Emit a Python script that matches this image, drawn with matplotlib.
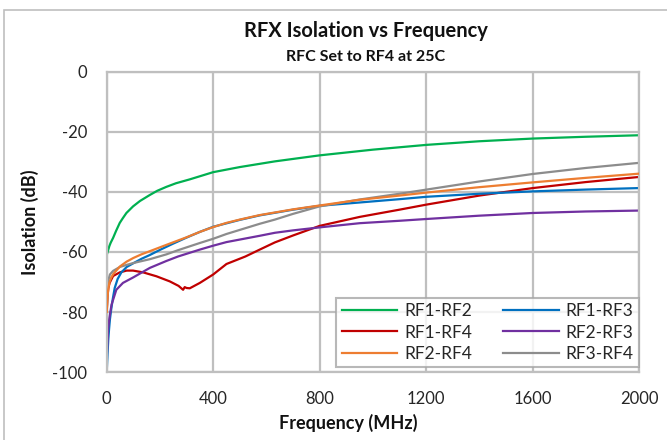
import matplotlib
matplotlib.use("Agg")
import matplotlib.pyplot as plt
from matplotlib.patches import Rectangle

plt.rcParams["font.family"] = ["Lato", "DejaVu Sans"]
plt.rcParams["axes.unicode_minus"] = False

# =========================
# Data
# =========================

f_rf1_rf2 = [0, 5, 10, 15, 24, 35, 49, 60, 74, 99, 125, 162, 190, 224, 260, 312, 400, 500, 632,
             800, 1000, 1202, 1400, 1601, 1800, 2000]
rf1_rf2 = [-61, -59.5, -58, -56.9, -55.3, -53, -50.3, -48.8, -47, -44.8, -43, -41, -39.6, -38.3,
           -37.1, -35.8, -33.4, -31.7, -29.8, -27.8, -25.9, -24.3, -23.1, -22.2, -21.6, -21.1]

f_rf1_rf3 = [0, 3, 6, 9, 12, 17, 23, 30, 41, 55, 75, 99, 130, 162, 200, 250, 300, 350, 400, 500,
             575, 700, 800, 951, 1100, 1202, 1400, 1601, 1800, 2000]
rf1_rf3 = [-100, -94, -89, -85.5, -82.5, -79, -75.5, -72, -69, -66.8, -65, -63.8, -62.3, -61, -59.3,
           -57.2, -55.2, -53.3, -51.6, -49.3, -47.8, -45.9, -44.6, -43.5, -42.4, -41.6, -40.6,
           -39.8, -39.2, -38.7]

f_rf1_rf4 = [0, 3, 6, 11, 24, 49, 75, 99, 137, 187, 237, 270, 287, 293, 300, 312, 350, 400, 450,
             521, 575, 632, 700, 800, 951, 1100, 1202, 1400, 1601, 1800, 2000]
rf1_rf4 = [-80, -75, -72, -70.3, -68, -66.8, -66.2, -66.2, -66.8, -68.1, -69.8, -71.3, -72.6, -71.7,
           -72, -72.1, -70.3, -67.5, -64, -61.5, -59.2, -56.8, -54.5, -51.3, -48.3, -45.9, -44.2,
           -41.2, -38.7, -36.7, -35]

f_rf2_rf3 = [0, 1, 3, 5, 10, 18, 36, 61, 99, 162, 224, 268, 350, 400, 450, 575, 632, 700, 800, 951,
             1100, 1202, 1400, 1601, 1800, 2000]
rf2_rf3 = [-100, -94, -90, -86, -82, -77.6, -72.6, -70.3, -68.5, -65.3, -63, -61.5, -59.2, -57.9,
           -56.7, -54.6, -53.6, -52.8, -51.8, -50.4, -49.6, -49, -47.9, -47, -46.5, -46.2]

f_rf2_rf4 = [0, 2, 5, 10, 17, 25, 50, 75, 100, 130, 160, 225, 300, 350, 400, 450, 500, 575, 700,
             800, 951, 1100, 1202, 1400, 1601, 1800, 2000]
rf2_rf4 = [-80, -76, -73, -70.2, -68.5, -67.3, -64.8, -63.2, -62, -60.8, -59.8, -57.6, -55.1, -53.3,
           -51.7, -50.3, -49.2, -47.7, -45.8, -44.5, -42.6, -41.2, -40.2, -38.4, -36.8, -35.3, -33.9]

f_rf3_rf4 = [0, 3, 6, 12, 24, 49, 75, 99, 162, 224, 268, 350, 400, 450, 575, 632, 700, 800, 951,
             1100, 1202, 1400, 1601, 1800, 2000]
rf3_rf4 = [-80, -73, -69.5, -67.5, -66.3, -65, -64.3, -63.7, -62.4, -60.8, -59.4, -57, -55.6, -54,
           -50.6, -49.2, -47.3, -44.8, -42.5, -40.6, -39.2, -36.5, -34, -32, -30.3]

x_ticks = [0, 400, 800, 1200, 1600, 2000]
y_ticks = [0, -20, -40, -60, -80, -100]


# =========================
# Figure
# =========================

fig = plt.figure(figsize=(6.67, 4.40), dpi=100)
ax = fig.add_axes([0.160, 0.1545, 0.798, 0.682])

lw = 1.6
ax.plot(f_rf1_rf2, rf1_rf2, color="#00B050", lw=lw, label="RF1-RF2")
ax.plot(f_rf1_rf4, rf1_rf4, color="#C00000", lw=lw, label="RF1-RF4")
ax.plot(f_rf2_rf4, rf2_rf4, color="#ED7D31", lw=lw, label="RF2-RF4", zorder=3)
ax.plot(f_rf1_rf3, rf1_rf3, color="#0070C0", lw=lw, label="RF1-RF3")
ax.plot(f_rf2_rf3, rf2_rf3, color="#7030A0", lw=lw, label="RF2-RF3")
ax.plot(f_rf3_rf4, rf3_rf4, color="#8C8C8C", lw=lw, label="RF3-RF4")

ax.set_xlim(0, 2000)
ax.set_ylim(-100, 0)
ax.set_xticks(x_ticks)
ax.set_yticks(y_ticks)
ax.tick_params(length=0, labelsize=12, colors="#262626")
ax.tick_params(axis="x", pad=14)
ax.tick_params(axis="y", pad=14)
ax.grid(True, color="#BFBFBF", lw=1.6)
ax.set_axisbelow(True)
for s in ax.spines.values():
    s.set_color("#BFBFBF")
    s.set_linewidth(1.6)

fig.text(348 / 667, 1 - 423 / 440, "Frequency (MHz)", ha="center", va="center",
         fontsize=13, fontweight="bold", color="#111111")
fig.text(30 / 667, 1 - 222 / 440, "Isolation (dB)", ha="center", va="center", rotation=90,
         fontsize=13, fontweight="bold", color="#111111")

fig.text(366 / 667, 1 - 31 / 440, "RFX Isolation vs Frequency", ha="center", va="center",
         fontsize=14.5, fontweight="bold", color="#111111")
fig.text(366 / 667, 1 - 57 / 440, "RFC Set to RF4 at 25C", ha="center", va="center",
         fontsize=11.5, fontweight="bold", color="#111111")

leg = ax.legend(ncol=2, loc="lower right", bbox_to_anchor=(1.0, 0.017),
                fontsize=12.5, frameon=True, fancybox=False, borderpad=0.3,
                handlelength=3.2, handletextpad=0.4, columnspacing=1.8,
                labelspacing=0.3, borderaxespad=0)
leg.get_frame().set_edgecolor("#A6A6A6")
leg.get_frame().set_linewidth(1.5)
for t in leg.get_texts():
    t.set_color("#262626")

# outer chart border
fig.patches.append(Rectangle((4 / 667, -0.05), 1.2, 1 - 10 / 440 + 0.05, transform=fig.transFigure,
                             fill=False, edgecolor="#BFBFBF", lw=1.2))

plt.savefig("out.png", dpi=100)
